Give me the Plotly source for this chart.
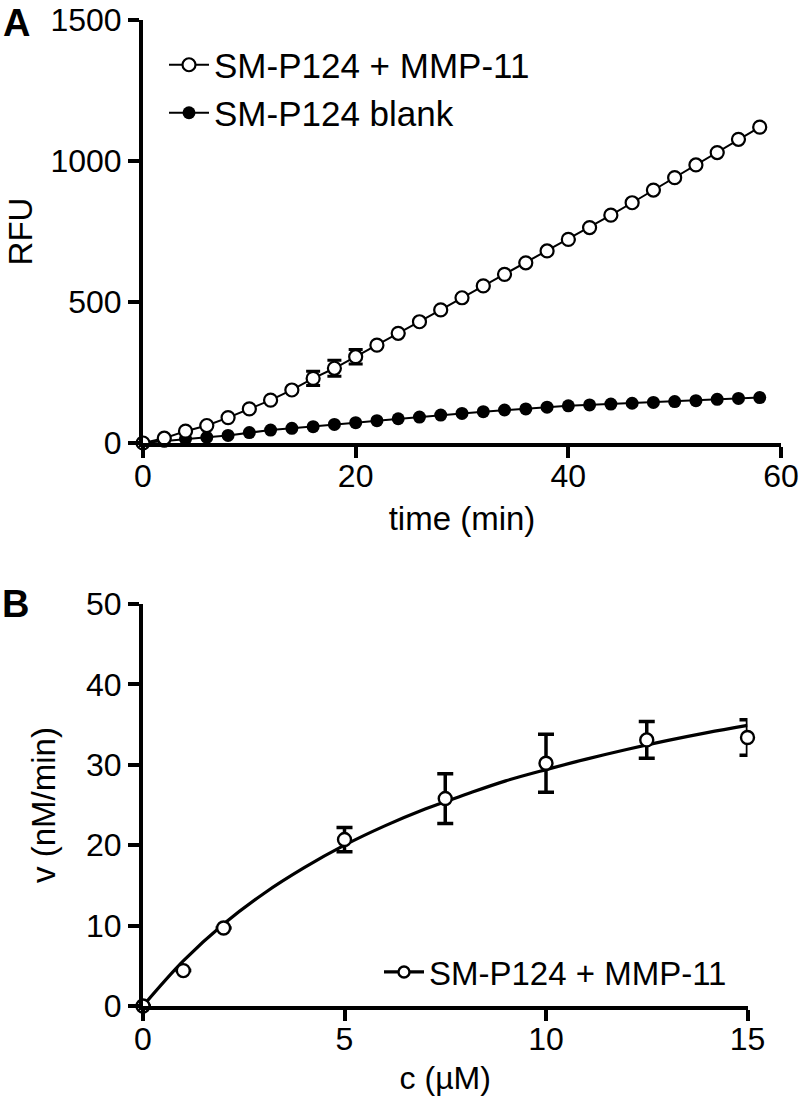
import plotly.graph_objects as go

# ---------- Panel A data ----------
time_min = [0, 2, 4, 6, 8, 10, 12, 14, 16, 18, 20, 22, 24, 26, 28, 30, 32, 34, 36, 38,
            40, 42, 44, 46, 48, 50, 52, 54, 56, 58]
rfu_mmp = [0, 17, 42, 62, 90, 121, 152, 188, 229, 265, 306, 347, 389, 430, 472, 515, 557, 598,
           639, 681, 722, 764, 808, 852, 897, 941, 986, 1030, 1077, 1120]
rfu_mmp_err = [0, 0, 0, 0, 0, 0, 0, 0, 25, 28, 26, 0, 0, 0, 0, 0, 0, 0,
               0, 0, 0, 0, 0, 0, 0, 0, 0, 0, 0, 0]
rfu_blank = [0, 6, 14, 20, 27, 37, 46, 52, 58, 66, 72, 79, 86, 92, 99, 105, 111, 117,
             121, 127, 132, 135, 138, 141, 144, 147, 150, 155, 158, 161]

# ---------- Panel B data ----------
conc_um = [0, 1, 2, 5, 7.5, 10, 12.5, 15]
rate = [0, 4.4, 9.7, 20.7, 25.8, 30.2, 33.1, 33.4]
rate_err = [0, 0, 0, 1.5, 3.1, 3.6, 2.3, 2.2]
fit_c = [0, 1, 2, 3, 4, 5, 6, 7, 8, 9, 10, 11, 12, 13, 14, 15]
fit_v = [0, 5.6, 10.2, 14.0, 17.2, 20.0, 22.4, 24.5, 26.3, 28.0, 29.4, 30.7, 31.9, 33.0, 34.0, 34.9]

A_ticks = [0, 20, 40, 60]
A_yticks = [0, 500, 1000, 1500]
B_ticks = [0, 5, 10, 15]
B_yticks = [0, 10, 20, 30, 40, 50]

FONT = "Liberation Sans, Arial, sans-serif"
W, H = 800, 1096

fig = go.Figure()

fig.add_trace(go.Scatter(
    x=time_min, y=rfu_blank, mode="lines+markers", name="SM-P124 blank",
    line=dict(color="black", width=2),
    marker=dict(symbol="circle", size=13, color="black"),
    xaxis="x", yaxis="y", cliponaxis=False, legend="legend2"))

fig.add_trace(go.Scatter(
    x=time_min, y=rfu_mmp, mode="lines+markers", name="SM-P124 + MMP-11",
    line=dict(color="black", width=2),
    marker=dict(symbol="circle", size=13, color="white", line=dict(color="black", width=2.2)),
    error_y=dict(type="data", array=rfu_mmp_err, visible=True, color="black",
                 thickness=3, width=7),
    xaxis="x", yaxis="y", cliponaxis=False, legend="legend"))

# Panel B
fig.add_trace(go.Scatter(
    x=fit_c, y=fit_v, mode="lines", line=dict(color="black", width=3.2, shape="spline"),
    showlegend=False, xaxis="x2", yaxis="y2", cliponaxis=False))

fig.add_trace(go.Scatter(
    x=conc_um, y=rate, mode="markers", showlegend=False,
    marker=dict(symbol="circle", size=13, color="white", line=dict(color="black", width=2.4)),
    error_y=dict(type="data", array=rate_err, visible=True, color="black",
                 thickness=3.5, width=8),
    xaxis="x2", yaxis="y2", cliponaxis=False))

# legend proxy for panel B
fig.add_trace(go.Scatter(
    x=[None], y=[None], mode="lines+markers", name="SM-P124 + MMP-11",
    line=dict(color="black", width=3.2),
    marker=dict(symbol="circle", size=11, color="white", line=dict(color="black", width=2.4)),
    xaxis="x2", yaxis="y2", legend="legend3"))

axis_common = dict(
    showline=True, linecolor="black", linewidth=4, ticks="outside", ticklen=11,
    tickwidth=4, tickcolor="black", showgrid=False, zeroline=False, automargin=False,
    tickfont=dict(family=FONT, size=32, color="black"),
)

fig.update_layout(
    width=W, height=H, margin=dict(l=0, r=0, t=0, b=0, autoexpand=False),
    paper_bgcolor="white", plot_bgcolor="white",
    font=dict(family=FONT, size=32, color="black"),
    xaxis=dict(domain=[143 / W, 781 / W], range=[0, 60], tickvals=A_ticks,
               anchor="y", ticklabelstandoff=-9,
               title=dict(text="time (min)", font=dict(family=FONT, size=33), standoff=14),
               **axis_common),
    yaxis=dict(domain=[1 - 443 / H, 1 - 20 / H], range=[0, 1500], tickvals=A_yticks,
               anchor="x",
               title=dict(text="RFU", font=dict(family=FONT, size=33), standoff=9),
               **axis_common),
    xaxis2=dict(domain=[143 / W, 747.5 / W], range=[0, 15], tickvals=B_ticks,
                anchor="y2", ticklabelstandoff=-9,
                title=dict(text="c (µM)", font=dict(family=FONT, size=32), standoff=13),
                **axis_common),
    yaxis2=dict(domain=[1 - 1006 / H, 1 - 604 / H], range=[0, 50], tickvals=B_yticks,
                anchor="x2",
                title=dict(text="v (nM/min)", font=dict(family=FONT, size=33), standoff=21),
                **axis_common),
    legend=dict(x=164 / W, y=1 - 65 / H, xanchor="left", yanchor="middle",
                bgcolor="rgba(0,0,0,0)", font=dict(family=FONT, size=35),
                itemwidth=40),
    legend2=dict(x=164 / W, y=1 - 113 / H, xanchor="left", yanchor="middle",
                 bgcolor="rgba(0,0,0,0)", font=dict(family=FONT, size=35),
                 itemwidth=40),
    legend3=dict(x=379 / W, y=1 - 972 / H, xanchor="left", yanchor="middle",
                 bgcolor="rgba(0,0,0,0)", font=dict(family=FONT, size=33),
                 itemwidth=40),
    annotations=[
        dict(text="<b>A</b>", x=1 / W, y=1, xref="paper", yref="paper",
             xanchor="left", yanchor="top", showarrow=False,
             font=dict(family=FONT, size=38, color="black")),
        dict(text="<b>B</b>", x=0, y=1 - 604 / H, xref="paper", yref="paper",
             xanchor="left", yanchor="middle", showarrow=False,
             font=dict(family=FONT, size=38, color="black")),
    ],
)

fig.write_html("out.html", config={"displayModeBar": False},
               post_script="document.body.style.margin='0';document.body.style.padding='0';")
